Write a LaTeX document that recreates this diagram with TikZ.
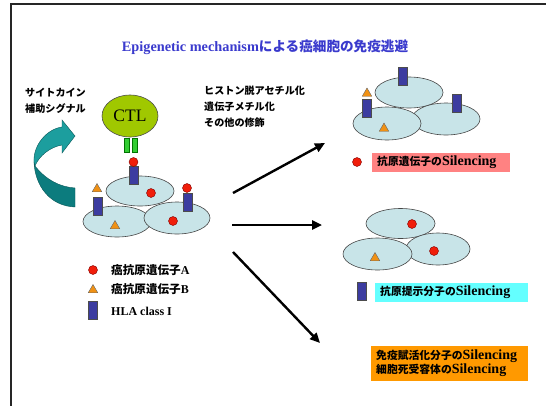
\documentclass[tikz,border=0pt]{standalone}
\usepackage{fontspec}
\setmainfont{Liberation Serif}
\newfontfamily\jp{Noto Sans CJK JP}
\usetikzlibrary{shapes.geometric,arrows.meta}

\definecolor{titleblue}{RGB}{58,58,205}
\definecolor{cellfill}{RGB}{200,228,232}
\definecolor{celledge}{RGB}{70,70,70}
\definecolor{antired}{RGB}{240,30,10}
\definecolor{antiorange}{RGB}{240,145,20}
\definecolor{hlablue}{RGB}{60,60,160}
\definecolor{ctlgreen}{RGB}{160,200,0}
\definecolor{tcrgreen}{RGB}{50,205,50}
\definecolor{tealhi}{RGB}{28,158,158}
\definecolor{tealdark}{RGB}{12,124,126}
\definecolor{boxpink}{RGB}{255,130,130}
\definecolor{boxcyan}{RGB}{100,255,255}
\definecolor{boxorange}{RGB}{255,153,0}

% Japanese runs inside Latin labels, at a given size
\newcommand\jtext[2]{{\jp\fontsize{#1}{14}\selectfont #2}}

\begin{document}
\begin{tikzpicture}[x=1pt,y=-1pt,
  cell/.style={ellipse,draw=celledge,line width=0.6pt,fill=cellfill,inner sep=0pt},
  hla/.style={rectangle,draw=black!70,line width=0.5pt,fill=hlablue,minimum width=9pt,minimum height=18pt,inner sep=0pt},
  antia/.style={circle,draw=red!50!black,line width=0.4pt,fill=antired,minimum size=9pt,inner sep=0pt},
  antib/.style={regular polygon,regular polygon sides=3,draw=black!60,line width=0.4pt,fill=antiorange,minimum size=11pt,inner sep=0pt},
  tcr/.style={rectangle,draw=green!45!black,line width=0.3pt,fill=tcrgreen,minimum width=4.5pt,minimum height=14pt,inner sep=0pt},
  flow/.style={line width=2.4pt,-{Triangle[length=10pt,width=9pt]}},
  jlabel/.style={font=\jp\bfseries\fontsize{10.1}{16}\selectfont,align=left,inner sep=0pt},
  legend/.style={font=\bfseries\fontsize{12}{13}\selectfont,inner sep=0pt,anchor=west},
  tagbox/.style={rectangle,anchor=west,inner xsep=5pt,inner ysep=0pt,align=left,font=\bfseries\fontsize{14}{14}\selectfont}
]
\useasboundingbox (0,0) rectangle (546,405);

% page frame
\begin{scope}
  \clip (0,0) rectangle (546,405);
  \draw[line width=2pt,black!85] (11,4) rectangle (600,460);
\end{scope}

% title
\node[text=titleblue,font=\bfseries\fontsize{14.3}{16}\selectfont,inner sep=0pt] (title) at (265,47.5)
  {Epigenetic mechanism\jtext{13.6}{による癌細胞の免疫逃避}};

% cytokine label and curved arrow
\node[jlabel,anchor=north west] (cyto) at (25,88) {サイトカイン\\補助シグナル};
\fill[tealdark,draw=tealdark!70!black,line width=0.4pt]
  (35,166) .. controls (46,180) and (60,187) .. (75,188)
  -- (75,207) .. controls (50,206) and (35,186) .. (34,162) -- cycle;
\fill[tealhi,draw=tealdark!70!black,line width=0.4pt]
  (34,162) .. controls (33,145) and (47,129) .. (62,127)
  -- (62,120) -- (75,136) -- (62,153) -- (62,145)
  .. controls (50,147) and (39,156) .. (35,166) -- cycle;

% CTL
\node[tcr] (tcr1) at (126.5,145) {};
\node[tcr] (tcr2) at (134.5,145) {};
\node[ellipse,draw=black!70,line width=0.6pt,fill=ctlgreen,minimum width=56pt,minimum height=42pt,inner sep=0pt,
  font=\fontsize{17.5}{20}\selectfont] (ctl) at (130,116) {CTL};

% tumour cells before modification
\node[cell,minimum width=68pt,minimum height=30pt] (c1) at (140,191) {};
\node[cell,minimum width=68pt,minimum height=31pt] (c2) at (117,221.5) {};
\node[cell,minimum width=66pt,minimum height=32pt] (c3) at (177,218) {};
\node[hla] (h1) at (133.5,175) {};
\node[antia] (h1a) at (133.5,162) {};
\node[antia] (r1) at (151,193) {};
\node[hla] (h2) at (97.5,206.5) {};
\node[antib] (t2) at (97,189) {};
\node[antib] (t3) at (115,226) {};
\node[hla] (h3) at (187.5,202) {};
\node[antia] (h3a) at (187,188) {};
\node[antia] (r3) at (173,221) {};

% legend
\node[antia] (lga) at (93,270) {};
\node[legend] (lta) at (111,270) {\jtext{11.6}{癌抗原遺伝子}A};
\node[antib] (lgb) at (93,290) {};
\node[legend] (ltb) at (111,289.5) {\jtext{11.6}{癌抗原遺伝子}B};
\node[hla] (lgh) at (92.5,310) {};
\node[legend] (lth) at (111,311) {HLA class I};

% modification label
\node[jlabel,anchor=north west] (mods) at (204,86) {ヒストン脱アセチル化\\遺伝子メチル化\\その他の修飾};

% arrows
\coordinate (a1s) at (233,193);
\coordinate (a1e) at (325,143);
\coordinate (a2s) at (232,225);
\coordinate (a2e) at (322,225);
\coordinate (a3s) at (233,252);
\coordinate (a3e) at (320,343);
\draw[flow] (a1s) -- (a1e);
\draw[flow] (a2s) -- (a2e);
\draw[flow] (a3s) -- (a3e);

% outcome 1: antigen gene silencing
\node[cell,minimum width=68pt,minimum height=31pt] (u1) at (409,92.5) {};
\node[cell,minimum width=68pt,minimum height=32pt] (u3) at (446,119) {};
\node[cell,minimum width=68pt,minimum height=33pt] (u2) at (387,123.5) {};
\node[hla] (uh1) at (402.5,76.5) {};
\node[antib] (ut1) at (367,93.5) {};
\node[hla] (uh2) at (367,108) {};
\node[antib] (ut2) at (384,128.5) {};
\node[hla] (uh3) at (456.5,103.5) {};
\node[antia] (ulg) at (357,162) {};
\node[tagbox,fill=boxpink,minimum width=138pt,minimum height=19pt,text width=128pt] (ubox) at (372,162.5)
  {\jtext{10.8}{抗原遺伝子の}Silencing};

% outcome 2: antigen presentation silencing
\node[cell,minimum width=69pt,minimum height=30pt] (m1) at (400.5,223.5) {};
\node[cell,minimum width=64pt,minimum height=32pt] (m3) at (438,249) {};
\node[cell,minimum width=69pt,minimum height=32pt] (m2) at (377.5,254) {};
\node[antia] (mr1) at (412,224) {};
\node[antia] (mr2) at (434,251) {};
\node[antib] (mt1) at (375,258) {};
\node[hla] (mlg) at (362,291.5) {};
\node[tagbox,fill=boxcyan,minimum width=153pt,minimum height=19pt,text width=143pt] (mbox) at (375,292.5)
  {\jtext{10.8}{抗原提示分子の}Silencing};

% outcome 3: immune activation / death receptor silencing
\node[tagbox,fill=boxorange,minimum width=157pt,minimum height=35pt,text width=147pt] (obox) at (371,363.5)
  {\jtext{10.8}{免疫賦活化分子の}Silencing\\\jtext{10.8}{細胞死受容体の}Silencing};
\end{tikzpicture}
\end{document}
